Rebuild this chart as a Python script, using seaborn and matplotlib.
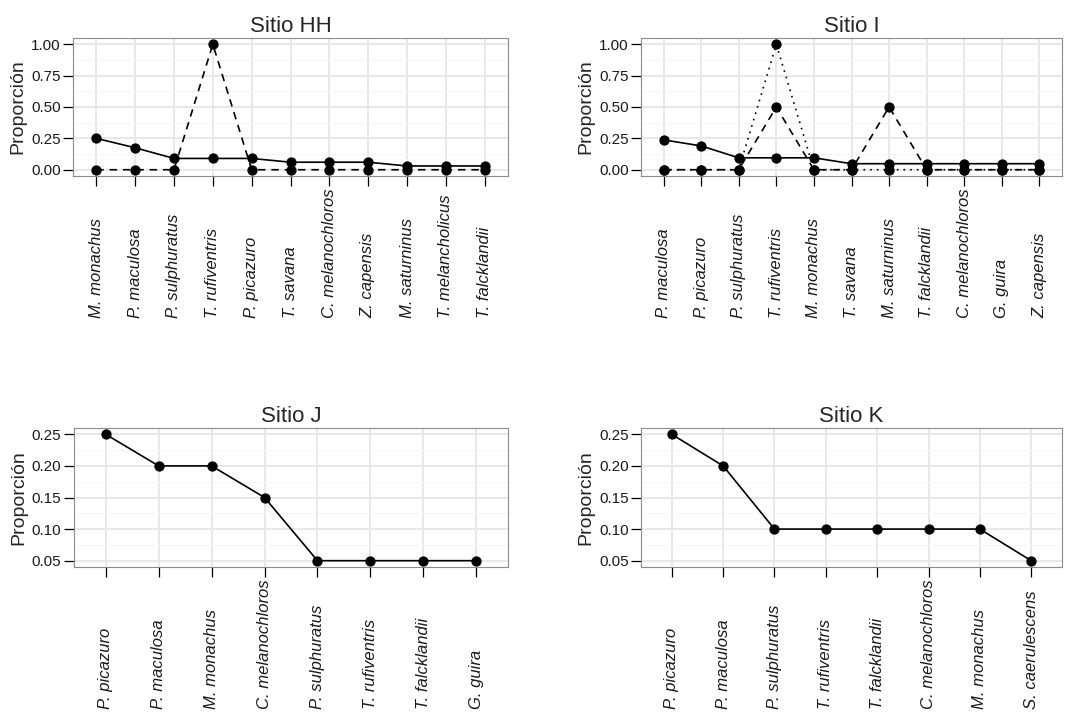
import pandas as pd
import matplotlib
matplotlib.use("Agg")
import matplotlib.pyplot as plt
from matplotlib.ticker import FixedLocator, MultipleLocator, FormatStrFormatter
import seaborn as sns

# --- datos
especies_hh = ['M. monachus', 'P. maculosa', 'P. sulphuratus', 'T. rufiventris', 'P. picazuro',
               'T. savana', 'C. melanochloros', 'Z. capensis', 'M. saturninus',
               'T. melancholicus', 'T. falcklandii']
hh_solida = [0.25, 0.175, 0.09, 0.09, 0.09, 0.06, 0.06, 0.06, 0.03, 0.03, 0.03]
hh_guiones = [0, 0, 0, 1.0, 0, 0, 0, 0, 0, 0, 0]

especies_i = ['P. maculosa', 'P. picazuro', 'P. sulphuratus', 'T. rufiventris', 'M. monachus',
              'T. savana', 'M. saturninus', 'T. falcklandii', 'C. melanochloros',
              'G. guira', 'Z. capensis']
i_solida = [0.238, 0.19, 0.095, 0.095, 0.095, 0.048, 0.048, 0.048, 0.048, 0.048, 0.048]
i_guiones = [0, 0, 0, 0.5, 0, 0, 0.5, 0, 0, 0, 0]
i_puntos = [0, 0, 0, 1.0, 0, 0, 0, 0, 0, 0, 0]

especies_j = ['P. picazuro', 'P. maculosa', 'M. monachus', 'C. melanochloros',
              'P. sulphuratus', 'T. rufiventris', 'T. falcklandii', 'G. guira']
j_solida = [0.25, 0.20, 0.20, 0.15, 0.05, 0.05, 0.05, 0.05]

especies_k = ['P. picazuro', 'P. maculosa', 'P. sulphuratus', 'T. rufiventris',
              'T. falcklandii', 'C. melanochloros', 'M. monachus', 'S. caerulescens']
k_solida = [0.25, 0.20, 0.10, 0.10, 0.10, 0.10, 0.10, 0.05]

ticks_arriba = [0.0, 0.25, 0.50, 0.75, 1.00]
ticks_abajo = [0.05, 0.10, 0.15, 0.20, 0.25]

estilos = {'solida': '-', 'guiones': (0, (4.5, 3.5)), 'puntos': (0, (1, 3))}


def armar_tabla(especies, series):
    filas = []
    for nombre, valores in series.items():
        for esp, v in zip(especies, valores):
            filas.append({'especie': esp, 'prop': v, 'serie': nombre})
    return pd.DataFrame(filas)


def panel(fig, rect, titulo, especies, series, yticks, ylim, minor):
    ax = fig.add_axes(rect)
    df = armar_tabla(especies, series)
    nombres = list(series.keys())
    sns.pointplot(data=df, x='especie', y='prop', hue='serie', order=especies,
                  hue_order=nombres, palette=['black'] * len(nombres),
                  linestyles=[estilos[n] for n in nombres], markers='o',
                  markersize=6.5, linewidth=1.2, errorbar=None, legend=False, ax=ax)
    n = len(especies)
    ax.set_xlim(-0.6, n - 0.4)
    ax.set_ylim(*ylim)
    ax.yaxis.set_major_locator(FixedLocator(yticks))
    ax.yaxis.set_major_formatter(FormatStrFormatter('%.2f'))
    ax.yaxis.set_minor_locator(MultipleLocator(minor))

    ax.set_facecolor('white')
    ax.set_axisbelow(True)
    ax.grid(True, which='major', color='#e6e6e6', linewidth=1.3)
    ax.grid(True, which='minor', axis='y', color='#f4f4f4', linewidth=0.7)
    ax.xaxis.grid(True, which='major', color='#e6e6e6', linewidth=1.3)
    for s in ax.spines.values():
        s.set_color('#8c8c8c')
        s.set_linewidth(0.8)

    ax.tick_params(axis='both', which='major', direction='out', length=7, width=0.9,
                   color='black', labelcolor='#1a1a1a', labelsize=11,
                   bottom=True, left=True)
    ax.tick_params(axis='y', which='major', pad=2)
    ax.tick_params(which='minor', length=0)
    ax.tick_params(axis='x', which='major', pad=95, labelsize=12)
    ax.set_xticks(range(n))
    ax.set_xticklabels(especies, rotation=90, va='bottom', ha='center', style='italic')

    ax.set_xlabel('')
    ax.set_ylabel('Proporción', fontsize=14, labelpad=3)
    ax.set_title(titulo, fontsize=16, pad=4)
    return ax


sns.set_theme(style='white')
plt.rcParams['font.family'] = ['Liberation Sans', 'DejaVu Sans']

W, H = 1075, 713
fig = plt.figure(figsize=(W / 100, H / 100), dpi=100)
fig.patch.set_facecolor('white')


def caja(x0, x1, y0, y1):
    return [x0 / W, 1 - y1 / H, (x1 - x0) / W, (y1 - y0) / H]


panel(fig, caja(73, 508, 38, 176), 'Sitio HH', especies_hh,
      {'solida': hh_solida, 'guiones': hh_guiones}, ticks_arriba, (-0.05, 1.05), 0.125)
panel(fig, caja(641, 1062, 38, 176), 'Sitio I', especies_i,
      {'puntos': i_puntos, 'guiones': i_guiones, 'solida': i_solida},
      ticks_arriba, (-0.05, 1.05), 0.125)
panel(fig, caja(74, 508, 428, 567), 'Sitio J', especies_j,
      {'solida': j_solida}, ticks_abajo, (0.04, 0.26), 0.025)
panel(fig, caja(641, 1062, 428, 567), 'Sitio K', especies_k,
      {'solida': k_solida}, ticks_abajo, (0.04, 0.26), 0.025)

fig.savefig('out.png', dpi=100, facecolor='white')
plt.close(fig)
